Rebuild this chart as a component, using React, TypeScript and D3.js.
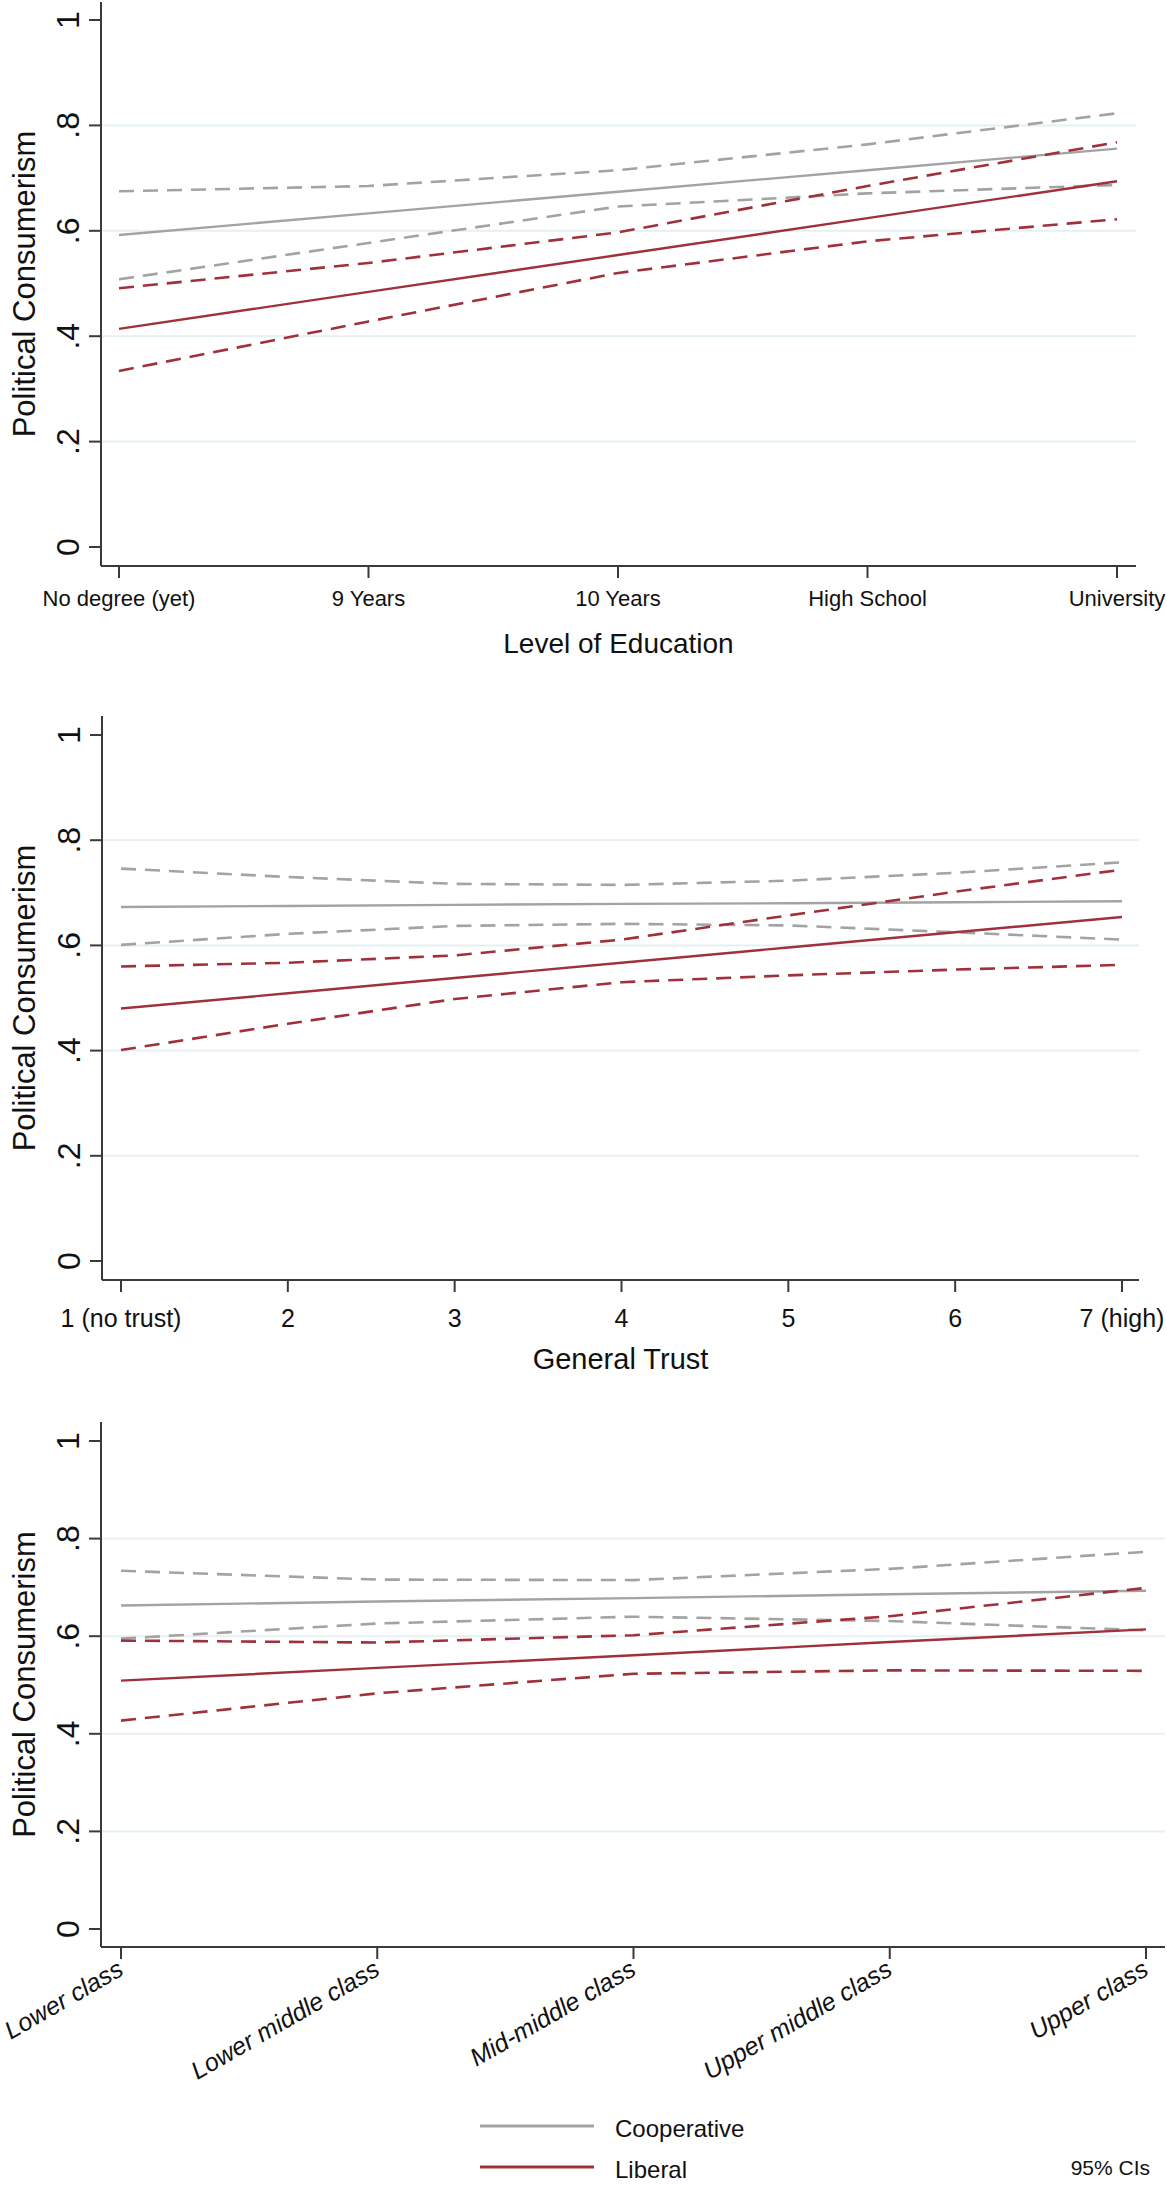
import React from "react";
import * as d3 from "d3";

// ---------- DATA ----------
const eduCats = ["No degree (yet)", "9 Years", "10 Years", "High School", "University"];
const eduCoop = [0.592, 0.633, 0.674, 0.715, 0.756];
const eduCoopHi = [0.675, 0.685, 0.715, 0.764, 0.823];
const eduCoopLo = [0.508, 0.577, 0.646, 0.671, 0.687];
const eduLib = [0.414, 0.484, 0.554, 0.624, 0.694];
const eduLibHi = [0.491, 0.539, 0.597, 0.685, 0.768];
const eduLibLo = [0.334, 0.428, 0.52, 0.58, 0.622];

const trustCats = ["1 (no trust)", "2", "3", "4", "5", "6", "7 (high)"];
const trustCoop = [0.673, 0.675, 0.677, 0.679, 0.68, 0.682, 0.684];
const trustCoopHi = [0.746, 0.73, 0.717, 0.715, 0.723, 0.738, 0.758];
const trustCoopLo = [0.601, 0.622, 0.637, 0.641, 0.638, 0.625, 0.611];
const trustLib = [0.48, 0.509, 0.538, 0.567, 0.596, 0.625, 0.654];
const trustLibHi = [0.56, 0.567, 0.581, 0.611, 0.657, 0.702, 0.744];
const trustLibLo = [0.401, 0.451, 0.498, 0.53, 0.543, 0.554, 0.563];

const classCats = ["Lower class", "Lower middle class", "Mid-middle class", "Upper middle class", "Upper class"];
const classCoop = [0.663, 0.671, 0.678, 0.686, 0.693];
const classCoopHi = [0.734, 0.716, 0.715, 0.738, 0.773];
const classCoopLo = [0.595, 0.626, 0.64, 0.631, 0.612];
const classLib = [0.509, 0.535, 0.561, 0.588, 0.614];
const classLibHi = [0.591, 0.587, 0.602, 0.641, 0.699];
const classLibLo = [0.427, 0.483, 0.523, 0.53, 0.529];

const yTicks = [0, 0.2, 0.4, 0.6, 0.8, 1];
const yTickLabels = ["0", ".2", ".4", ".6", ".8", "1"];
const gridVals = [0.2, 0.4, 0.6, 0.8];

const seriesNames = ["Cooperative", "Liberal"];
const ciNote = "95% CIs";
const yTitle = "Political Consumerism";

// ---------- STYLE ----------
const GRAY = "#a3a3a3";
const RED = "#a0313b";
const AXIS = "#3a3a3a";
const GRID = "#e6eff1";
const FONT = "'Liberation Sans', Arial, Helvetica, sans-serif";

type PanelProps = {
  cats: string[];
  coop: number[];
  coopHi: number[];
  coopLo: number[];
  lib: number[];
  libHi: number[];
  libLo: number[];
  xTitle?: string;
  axisX: number;
  xFirst: number;
  xLast: number;
  xEnd: number;
  yTop: number;
  yZero: number;
  axisTop: number;
  axisY: number;
  tickFont: number;
  tickBaseline: number;
  titleFont: number;
  titleBaseline: number;
  rotated?: boolean;
};

function Panel(p: PanelProps) {
  const x = d3.scalePoint<string>().domain(p.cats).range([p.xFirst, p.xLast]).padding(0);
  const y = d3.scaleLinear().domain([0, 1]).range([p.yZero, p.yTop]);
  const line = d3
    .line<number>()
    .x((_, i) => x(p.cats[i]) as number)
    .y((d) => y(d))
    .curve(d3.curveLinear);

  const dash = "15 9";
  const centerX = (p.axisX + p.xEnd) / 2;
  const centerY = (p.axisTop + p.axisY) / 2;

  return (
    <g>
      {gridVals.map((v) => (
        <line key={"g" + v} x1={p.axisX + 1} x2={p.xEnd} y1={y(v)} y2={y(v)} stroke={GRID} strokeWidth={2} />
      ))}
      <path d={line(p.coopHi) || ""} fill="none" stroke={GRAY} strokeWidth={2.6} strokeDasharray={dash} />
      <path d={line(p.coopLo) || ""} fill="none" stroke={GRAY} strokeWidth={2.6} strokeDasharray={dash} />
      <path d={line(p.coop) || ""} fill="none" stroke={GRAY} strokeWidth={2.4} />
      <path d={line(p.libHi) || ""} fill="none" stroke={RED} strokeWidth={2.6} strokeDasharray={dash} />
      <path d={line(p.libLo) || ""} fill="none" stroke={RED} strokeWidth={2.6} strokeDasharray={dash} />
      <path d={line(p.lib) || ""} fill="none" stroke={RED} strokeWidth={2.4} />
      <line x1={p.axisX} x2={p.axisX} y1={p.axisTop} y2={p.axisY} stroke={AXIS} strokeWidth={2} />
      {yTicks.map((v, i) => (
        <g key={"yt" + v}>
          <line x1={p.axisX - 12} x2={p.axisX} y1={y(v)} y2={y(v)} stroke={AXIS} strokeWidth={2} />
          <text
            transform={`translate(${p.axisX - 22},${y(v)}) rotate(-90)`}
            textAnchor="middle"
            fontSize={32}
            fontFamily={FONT}
            fill="#111"
          >
            {yTickLabels[i]}
          </text>
        </g>
      ))}
      <text
        transform={`translate(35,${centerY}) rotate(-90)`}
        textAnchor="middle"
        fontSize={31}
        fontFamily={FONT}
        fill="#111"
      >
        {yTitle}
      </text>
      <line x1={p.axisX} x2={p.xEnd} y1={p.axisY} y2={p.axisY} stroke={AXIS} strokeWidth={2.2} />
      {p.cats.map((c) => (
        <g key={"xt" + c}>
          <line x1={x(c)} x2={x(c)} y1={p.axisY} y2={p.axisY + 12} stroke={AXIS} strokeWidth={2} />
          {p.rotated ? (
            <text
              transform={`translate(${(x(c) as number) + 4},${p.tickBaseline}) rotate(-30)`}
              textAnchor="end"
              fontSize={p.tickFont}
              fontStyle="italic"
              fontFamily={FONT}
              fill="#111"
            >
              {c}
            </text>
          ) : (
            <text x={x(c)} y={p.tickBaseline} textAnchor="middle" fontSize={p.tickFont} fontFamily={FONT} fill="#111">
              {c}
            </text>
          )}
        </g>
      ))}
      {p.xTitle ? (
        <text x={centerX} y={p.titleBaseline} textAnchor="middle" fontSize={p.titleFont} fontFamily={FONT} fill="#111">
          {p.xTitle}
        </text>
      ) : null}
    </g>
  );
}

export default function App() {
  return (
    <svg
      width={1167}
      height={2185}
      viewBox="0 0 1167 2185"
      style={{ position: "absolute", left: 0, top: 0, background: "#fff" }}
    >
      <rect x={0} y={0} width={1167} height={2185} fill="#fff" />
      <Panel
        cats={eduCats}
        coop={eduCoop}
        coopHi={eduCoopHi}
        coopLo={eduCoopLo}
        lib={eduLib}
        libHi={eduLibHi}
        libLo={eduLibLo}
        xTitle="Level of Education"
        axisX={101}
        xFirst={119}
        xLast={1117}
        xEnd={1136}
        yTop={20}
        yZero={547}
        axisTop={2}
        axisY={566}
        tickFont={22}
        tickBaseline={606}
        titleFont={28}
        titleBaseline={653}
      />
      <Panel
        cats={trustCats}
        coop={trustCoop}
        coopHi={trustCoopHi}
        coopLo={trustCoopLo}
        lib={trustLib}
        libHi={trustLibHi}
        libLo={trustLibLo}
        xTitle="General Trust"
        axisX={102}
        xFirst={121}
        xLast={1122}
        xEnd={1139}
        yTop={735}
        yZero={1261}
        axisTop={716}
        axisY={1280}
        tickFont={25}
        tickBaseline={1327}
        titleFont={29}
        titleBaseline={1369}
      />
      <Panel
        cats={classCats}
        coop={classCoop}
        coopHi={classCoopHi}
        coopLo={classCoopLo}
        lib={classLib}
        libHi={classLibHi}
        libLo={classLibLo}
        axisX={101}
        xFirst={121}
        xLast={1146}
        xEnd={1165}
        yTop={1441}
        yZero={1929}
        axisTop={1422}
        axisY={1947}
        tickFont={25}
        tickBaseline={1974}
        titleFont={28}
        titleBaseline={0}
        rotated
      />
      {/* legend */}
      <line x1={480} x2={594} y1={2126} y2={2126} stroke={GRAY} strokeWidth={3} />
      <text x={615} y={2137} fontSize={24} fontFamily={FONT} fill="#111">
        {seriesNames[0]}
      </text>
      <line x1={480} x2={594} y1={2167} y2={2167} stroke={RED} strokeWidth={3} />
      <text x={615} y={2178} fontSize={24} fontFamily={FONT} fill="#111">
        {seriesNames[1]}
      </text>
      <text x={1150} y={2175} textAnchor="end" fontSize={21} fontFamily={FONT} fill="#111">
        {ciNote}
      </text>
    </svg>
  );
}
